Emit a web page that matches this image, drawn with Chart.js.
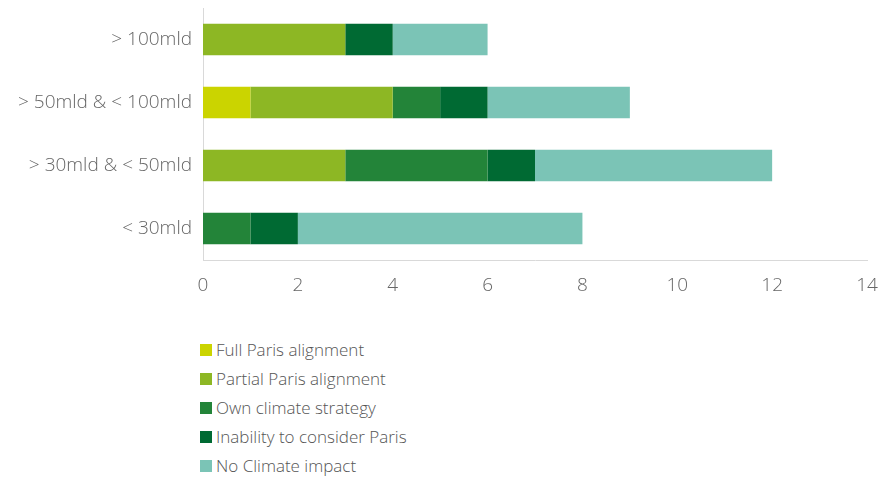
<!DOCTYPE html>
<html>
<head>
<meta charset="utf-8">
<script src="https://cdn.jsdelivr.net/npm/chart.js@4"></script>
<style>
  html, body { margin: 0; padding: 0; background: #fff; }
  #wrap { position: relative; width: 896px; height: 477px; }
  #legend { position: absolute; left: 200px; top: 335px; font-family: "Open Sans", sans-serif; font-weight: 300; font-size: 17px; color: #555; }
  #legend div { height: 29px; line-height: 22px; display: flex; align-items: center; }
  #legend span.box { display: inline-block; width: 12px; height: 12px; margin-right: 4px; }
</style>
</head>
<body>
<div id="wrap">
  <canvas id="chart" width="896" height="320"></canvas>
  <div id="legend"></div>
</div>
<script>
const categories = ['> 100mld', '> 50mld & < 100mld', '> 30mld & < 50mld', '< 30mld'];
const fullParis = [0, 1, 0, 0];
const partialParis = [3, 3, 3, 0];
const ownStrategy = [0, 1, 3, 1];
const inability = [1, 1, 1, 1];
const noClimate = [2, 3, 5, 6];
const xTicks = [0, 2, 4, 6, 8, 10, 12, 14];

const seriesNames = ['Full Paris alignment', 'Partial Paris alignment', 'Own climate strategy', 'Inability to consider Paris', 'No Climate impact'];
const seriesColors = ['#cbd400', '#8db724', '#238439', '#006a33', '#7bc4b6'];
const seriesValues = [fullParis, partialParis, ownStrategy, inability, noClimate];

const fontFam = '"Open Sans", sans-serif';

const ctx = document.getElementById('chart');
const chart = new Chart(ctx, {
  type: 'bar',
  data: {
    labels: categories,
    datasets: seriesValues.map((vals, i) => ({
      label: seriesNames[i],
      data: vals,
      backgroundColor: seriesColors[i],
      borderWidth: 0,
      barPercentage: 0.5,
      categoryPercentage: 1
    }))
  },
  options: {
    indexAxis: 'y',
    responsive: false,
    animation: false,
    layout: { padding: { top: 8, right: 29, left: 0, bottom: 0 } },
    plugins: {
      legend: { display: false },
      tooltip: { enabled: false }
    },
    scales: {
      x: {
        stacked: true,
        min: 0,
        max: 14,
        afterBuildTicks: (axis) => { axis.ticks = xTicks.map(v => ({ value: v })); },
        grid: { display: false, drawTicks: false },
        border: { display: true, color: '#d9d9d9', width: 1 },
        afterFit: (axis) => { axis.height = 60; },
        ticks: {
          padding: 14,
          color: '#666',
          font: { family: fontFam, size: 19, weight: 300 }
        }
      },
      y: {
        stacked: true,
        grid: { display: false, drawTicks: false },
        border: { display: true, color: '#d9d9d9', width: 1 },
        afterFit: (axis) => {
          axis.width = 203;
          axis.paddingTop = 0;
          axis.paddingBottom = 0;
        },
        ticks: {
          padding: 11,
          color: '#666',
          font: { family: fontFam, size: 19, weight: 300 }
        }
      }
    }
  }
});

const legendEl = document.getElementById('legend');
chart.data.datasets.forEach(ds => {
  const row = document.createElement('div');
  const box = document.createElement('span');
  box.className = 'box';
  box.style.background = ds.backgroundColor;
  row.appendChild(box);
  row.appendChild(document.createTextNode(ds.label));
  legendEl.appendChild(row);
});
</script>
</body>
</html>
